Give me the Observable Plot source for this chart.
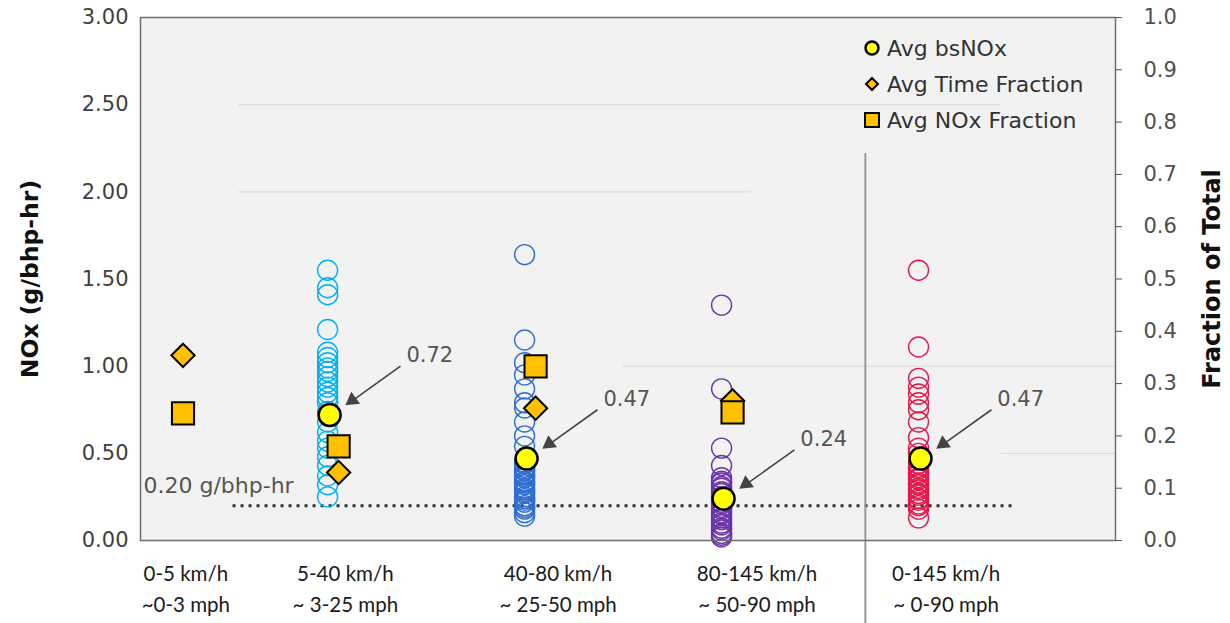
<!DOCTYPE html>
<html>
<head>
<meta charset="utf-8">
<script src="https://cdn.jsdelivr.net/npm/d3@7"></script>
<script src="https://cdn.jsdelivr.net/npm/@observablehq/plot@0.6"></script>
<style>
  html, body { margin: 0; padding: 0; background: #ffffff; }
  #wrap { position: relative; width: 1230px; height: 623px; font-family: "DejaVu Sans", sans-serif; }
  #legend { position: absolute; left: 862px; top: 30px; font-size: 22px; color: #333; font-family: "DejaVu Sans", sans-serif; }
  #legend .row { display: flex; align-items: center; height: 36px; }
  #legend svg { width: 20px; height: 20px; margin-right: 5px; }
</style>
</head>
<body>
<div id="wrap">
  <div id="chart"></div>
  <div id="legend">
    <div class="row"><svg viewBox="-10 -10 20 20"><circle r="6.5" fill="#ffff00" stroke="#000" stroke-width="2.5"/></svg>Avg bsNOx</div>
    <div class="row"><svg viewBox="-10 -10 20 20"><path d="M0,-6L6,0L0,6L-6,0Z" fill="#ffc000" stroke="#000" stroke-width="2"/></svg>Avg Time Fraction</div>
    <div class="row"><svg viewBox="-10 -10 20 20"><rect x="-7" y="-7" width="14" height="14" fill="#ffc000" stroke="#000" stroke-width="2"/></svg>Avg NOx Fraction</div>
  </div>
</div>
<script>
// ---------- data ----------
const categories = ["0-5 km/h", "5-40 km/h", "40-80 km/h", "80-145 km/h", "0-145 km/h"];
const categoriesMph = ["~0-3 mph", "~ 3-25 mph", "~ 25-50 mph", "~ 50-90 mph", "~ 0-90 mph"];
const categoryPos = [0.21, 1, 2, 3, 4];
const labelPos = [0.28, 1.09, 2.17, 3.18, 4.14];

const vehicles_5_40 = [1.55, 1.45, 1.41, 1.21, 1.08, 1.05, 1.02, 0.99, 0.97, 0.94, 0.91, 0.88, 0.85, 0.82, 0.79, 0.74, 0.68, 0.62, 0.57, 0.53, 0.48, 0.43, 0.37, 0.32, 0.25];
const vehicles_40_80 = [1.64, 1.15, 1.02, 0.95, 0.87, 0.79, 0.76, 0.68, 0.60, 0.54,
  0.45, 0.44, 0.42, 0.41, 0.40, 0.38, 0.37, 0.36, 0.34, 0.33, 0.32, 0.30, 0.29, 0.28, 0.27, 0.25, 0.24, 0.23, 0.22, 0.20, 0.19, 0.18, 0.16, 0.14];
const vehicles_80_145 = [1.35, 0.87, 0.53, 0.43,
  0.36, 0.34, 0.33, 0.31, 0.30, 0.28, 0.27, 0.25, 0.24, 0.22, 0.21, 0.19, 0.18, 0.16, 0.15, 0.13, 0.12, 0.10, 0.09, 0.07, 0.06, 0.04, 0.03, 0.02];
const vehicles_0_145 = [1.55, 1.11, 0.93, 0.88, 0.84, 0.79, 0.75, 0.68, 0.59, 0.53, 0.50,
  0.44, 0.42, 0.41, 0.39, 0.38, 0.36, 0.35, 0.33, 0.32, 0.30, 0.29, 0.27, 0.26, 0.24, 0.23, 0.21, 0.20, 0.18, 0.13];
const vehicleColors = ["#00b0f0", "#2f6ed1", "#6a35a8", "#e3174a"];

const avgBsNOx = [null, 0.72, 0.47, 0.24, 0.47];
const avgTimeFraction = [0.354, 0.13, 0.253, 0.267, null];
const avgNOxFraction = [0.243, 0.18, 0.333, 0.245, null];

const leftTicks = [0, 0.5, 1, 1.5, 2, 2.5, 3];
const fracTicks = [0, 0.1, 0.2, 0.3, 0.4, 0.5, 0.6, 0.7, 0.8, 0.9, 1.0];
const limitValue = 0.20;
const limitLabel = "0.20 g/bhp-hr";
const limitSpan = [0.52, 4.5];
const separatorPos = 3.73;
const separatorSpan = [2.22, -0.48];
const gridSegments = [
  {v: 2.5, a: 0.55, b: 4.42},
  {v: 2.0, a: 0.55, b: 3.15},
  {v: 1.0, a: 2.5, b: 5.0},
  {v: 0.5, a: 4.42, b: 5.0}
];

// ---------- derived tables ----------
const vehicleSets = [vehicles_5_40, vehicles_40_80, vehicles_80_145, vehicles_0_145];
const vehicles = vehicleSets.flatMap((arr, k) => arr.map(v => ({x: categoryPos[k + 1], v, c: vehicleColors[k]})));
const avgRows = categories.map((c, i) => ({
  x: categoryPos[i], kmh: c, mph: categoriesMph[i], lx: labelPos[i],
  bs: avgBsNOx[i], tf: avgTimeFraction[i], nf: avgNOxFraction[i]
}));
const bsRows = avgRows.filter(d => d.bs != null);
const tfRows = avgRows.filter(d => d.tf != null);
const nfRows = avgRows.filter(d => d.nf != null);

const WIDE = "'DejaVu Sans', sans-serif";
const NARROW = "Lato, 'Open Sans', sans-serif";

const chart = Plot.plot({
  width: 1230,
  height: 623,
  marginLeft: 140,
  marginRight: 115,
  marginTop: 17,
  marginBottom: 83,
  x: {domain: [0.05, 5.0], axis: null},
  y: {domain: [0, 3], axis: null},
  style: {fontFamily: WIDE, background: "transparent"},
  marks: [
    Plot.frame({fill: "#f2f2f2", stroke: null}),
    Plot.ruleY(gridSegments, {y: "v", x1: "a", x2: "b", stroke: "#d8d8d8", strokeWidth: 1}),
    // dotted limit line
    Plot.ruleY([limitValue], {x1: limitSpan[0], x2: limitSpan[1], stroke: "#333", strokeWidth: 3, strokeDasharray: "3 5"}),
    Plot.text([limitLabel], {y: limitValue, frameAnchor: "left", textAnchor: "start", dx: 3, dy: -20, fontSize: 22, fill: "#555"}),
    // separator
    Plot.ruleX([separatorPos], {y1: separatorSpan[0], y2: separatorSpan[1], stroke: "#9a9a9a", strokeWidth: 2}),
    // individual vehicles
    Plot.dot(vehicles, {x: "x", y: "v", r: 10, stroke: "c", strokeWidth: 1.4, fill: "none"}),
    // averages
    Plot.dot(bsRows, {x: "x", y: "bs", r: 11, fill: "#ffff00", stroke: "#000", strokeWidth: 2.5, dx: 2}),
    Plot.dot(tfRows, {x: "x", y: d => d.tf * 3, symbol: "diamond2", r: 10.5, fill: "#ffc000", stroke: "#000", strokeWidth: 2, dx: 11}),
    Plot.dot(nfRows, {x: "x", y: d => d.nf * 3, symbol: "square", r: 12.5, fill: "#ffc000", stroke: "#000", strokeWidth: 2, dx: 11}),
    // annotations
    Plot.link(bsRows, {x1: d => d.x + 0.37, y1: d => d.bs + 0.28, x2: d => d.x + 0.135, y2: d => d.bs + 0.09, stroke: "#444", strokeWidth: 1.6}),
    Plot.dot(bsRows, {x: d => d.x + 0.125, y: d => d.bs + 0.085, symbol: "triangle", r: 5.5, rotate: 234, fill: "#444", stroke: null}),
    Plot.text(bsRows, {x: d => d.x + 0.40, y: d => d.bs + 0.34, text: d => d.bs.toFixed(2), textAnchor: "start", fontSize: 21, fill: "#555"}),
    // frame
    Plot.frame({stroke: "#6e6e6e", strokeWidth: 1.5}),
    // left axis
    Plot.axisY(leftTicks, {anchor: "left", tickSize: 0, tickPadding: 12, tickFormat: d => d.toFixed(2), fontSize: 21, color: "#404040", label: null}),
    // right axis (fraction of total, same pixel range)
    Plot.axisY(fracTicks.map(f => f * 3), {anchor: "right", tickSize: 6, tickPadding: 22, tickFormat: d => (d / 3).toFixed(1), fontSize: 21, color: "#505050", label: null}),
    // axis titles
    Plot.text(["NOx (g/bhp-hr)"], {frameAnchor: "left", textAnchor: "middle", dx: -110, rotate: -90, fontSize: 23.5, fontWeight: "bold", fill: "#111"}),
    Plot.text(["Fraction of Total"], {frameAnchor: "right", textAnchor: "middle", dx: 97, rotate: -90, fontSize: 24, fontWeight: "bold", fill: "#111"}),
    // category labels
    Plot.text(avgRows, {x: "lx", text: "kmh", frameAnchor: "bottom", dy: 40, fontSize: 20.5, fontFamily: NARROW, fill: "#1a1a1a"}),
    Plot.text(avgRows, {x: "lx", text: "mph", frameAnchor: "bottom", dy: 71, fontSize: 20.5, fontFamily: NARROW, fill: "#1a1a1a"})
  ]
});
document.getElementById("chart").appendChild(chart);
</script>
</body>
</html>
